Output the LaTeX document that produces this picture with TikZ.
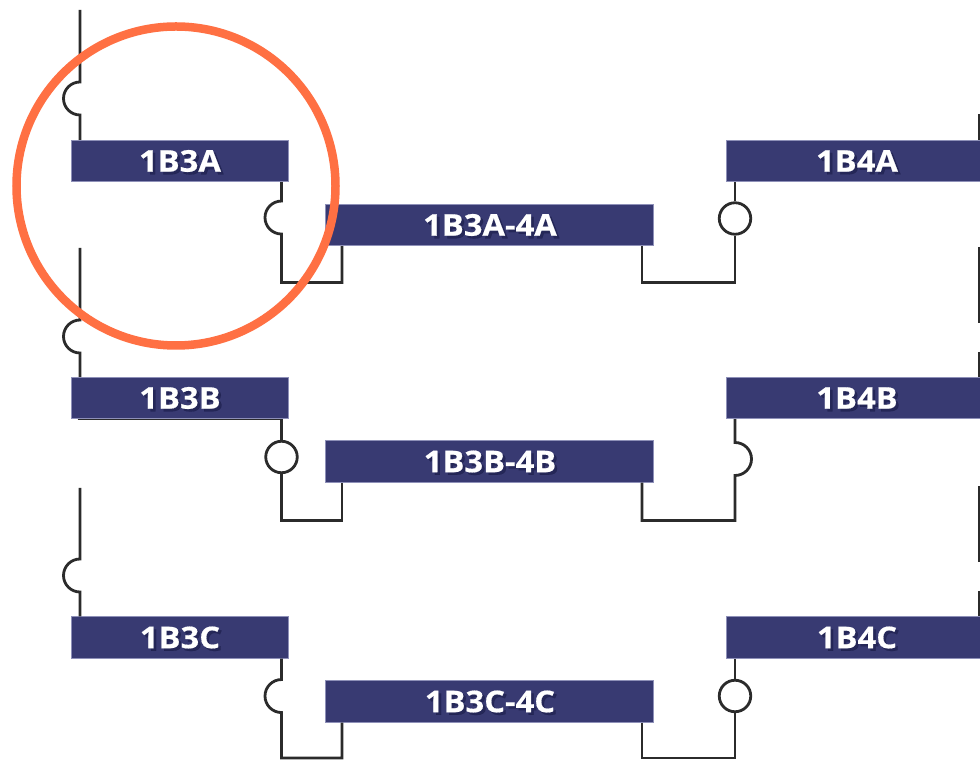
\documentclass[tikz,border=0pt]{standalone}
\usepackage{fontspec}
\setmainfont{Open Sans}[BoldFont={Open Sans Bold},BoldFeatures={FakeStretch=1.09,FakeBold=0.5}]
\usetikzlibrary{calc}
\definecolor{bar}{HTML}{383A72}
\definecolor{barline}{HTML}{8E90B8}
\definecolor{wire}{HTML}{2B2B2B}
\definecolor{ring}{HTML}{FF7043}
\definecolor{shade}{HTML}{14163F}
\tikzset{
  x=1pt,y=1pt,
  bar box/.style={fill=bar,draw=barline,line width=.6pt,inner sep=0pt,minimum height=41.5pt},
  tag/.style={font=\bfseries\fontsize{30}{32}\selectfont,inner sep=0pt,text=white},
  tag shade/.style={tag,text=shade,text opacity=.5},
  wire line/.style={draw=wire,line width=2.8pt,line join=miter},
  wire ring/.style={circle,draw=wire,line width=2.8pt,fill=white,minimum size=31.5pt,inner sep=0pt},
  big ring/.style={draw=ring,line width=8.5pt}
}
\newcommand{\tagtext}[4]{%
  \node[tag shade] (#1s) at ($(#2,#3)+(2.6,-2.6)$) {#4};
  \node[tag] (#1) at (#2,#3) {#4};}
\begin{document}
\begin{tikzpicture}
\useasboundingbox (0,0) rectangle (980,760);
\fill[white] (0,0) rectangle (980,760);
% column guides
\coordinate (xa) at (80,0);
\coordinate (xb) at (281.5,0);
\coordinate (xc) at (342,0);
\coordinate (xd) at (642,0);
\coordinate (xe) at (735,0);
\coordinate (xf) at (979,0);
% bars
\node[bar box,minimum width=217pt] (b3a) at (179.5,599) {};
\node[bar box,minimum width=328pt] (m3a) at (489,535) {};
\node[bar box,minimum width=256pt] (b4a) at (854,599) {};
\node[bar box,minimum width=217pt] (b3b) at (179.5,362) {};
\node[bar box,minimum width=328pt] (m3b) at (489,298.5) {};
\node[bar box,minimum width=256pt] (b4b) at (854,362) {};
\node[bar box,minimum width=217pt] (b3c) at (179.5,122.5) {};
\node[bar box,minimum width=328pt] (m3c) at (489,58.5) {};
\node[bar box,minimum width=256pt] (b4c) at (854,122.5) {};
% texts
\tagtext{t3a}{180}{599}{1B3A}
\tagtext{tm3a}{490}{535}{1B3A-4A}
\tagtext{t4a}{857}{599}{1B4A}
\tagtext{t3b}{180}{362}{1B3B}
\tagtext{tm3b}{490}{298.5}{1B3B-4B}
\tagtext{t4b}{857}{362}{1B4B}
\tagtext{t3c}{180}{122.5}{1B3C}
\tagtext{tm3c}{490}{58.5}{1B3C-4C}
\tagtext{t4c}{857}{122.5}{1B4C}
% free ends
\coordinate (la) at (80,750);
\coordinate (lb) at (80,512);
\coordinate (lc) at (80,272);
\coordinate (ra) at (979,646);
\coordinate (rb1) at (979,513);
\coordinate (rb) at (979,408);
\coordinate (rc1) at (979,274);
\coordinate (rc) at (979,169);
\coordinate (ya) at (0,477.5);
\coordinate (yb) at (0,239.5);
\coordinate (yc) at (0,2);
% rings
\node[wire ring] (ca) at (735,541.5) {};
\node[wire ring] (cb) at (281.5,303) {};
\node[wire ring] (cc) at (735,64) {};
% left risers
\draw[wire line] (la) -- ++(0,-72) arc[start angle=90,end angle=270,radius=16.5pt] -- (xa |- b3a.north);
\draw[wire line] (lb) -- ++(0,-72) arc[start angle=90,end angle=270,radius=16.5pt] -- (xa |- b3b.north);
\draw[wire line] (lc) -- ++(0,-71) arc[start angle=90,end angle=270,radius=16.5pt] -- (xa |- b3c.north);
% right risers
\draw[wire line] (ra) -- (xf |- b4a.north);
\draw[wire line] (rb1) -- ++(0,-76);
\draw[wire line] (rb) -- (xf |- b4b.north);
\draw[wire line] (rc1) -- ++(0,-76);
\draw[wire line] (rc) -- (xf |- b4c.north);
% row A connectors
\draw[wire line] (xb |- b3a.south) -- ++(0,-19) arc[start angle=90,end angle=270,radius=16.5pt] -- (xb |- ya) -- (xc |- ya) -- (xc |- m3a.south);
\draw[wire line] (xd |- m3a.south) -- (xd |- ya) -- (xe |- ya) -- (ca.south);
\draw[wire line] (ca.north) -- (xe |- b4a.south);
% row B connectors
\draw[wire line] (xb |- b3b.south) -- (cb.north);
\draw[wire line] (cb.south) -- (xb |- yb) -- (xc |- yb) -- (xc |- m3b.south);
\draw[wire line] (xd |- m3b.south) -- (xd |- yb) -- (xe |- yb) -- ++(0,45) arc[start angle=-90,end angle=90,radius=16.5pt] -- (xe |- b4b.south);
\draw[draw=wire,line width=1.4pt] ($(b3b.south west)+(7,-.6)$) -- (xb |- {$(b3b.south)+(0,-.6)$});
% row C connectors
\draw[wire line] (xb |- b3c.south) -- ++(0,-21) arc[start angle=90,end angle=270,radius=16.5pt] -- (xb |- yc) -- (xc |- yc) -- (xc |- m3c.south);
\draw[wire line] (xd |- m3c.south) -- (xd |- yc) -- (xe |- yc) -- (cc.south);
\draw[wire line] (cc.north) -- (xe |- b4c.south);
% highlight
\node[circle,big ring,minimum size=319pt,inner sep=0pt] (hl) at (176,574) {};
\end{tikzpicture}
\end{document}
